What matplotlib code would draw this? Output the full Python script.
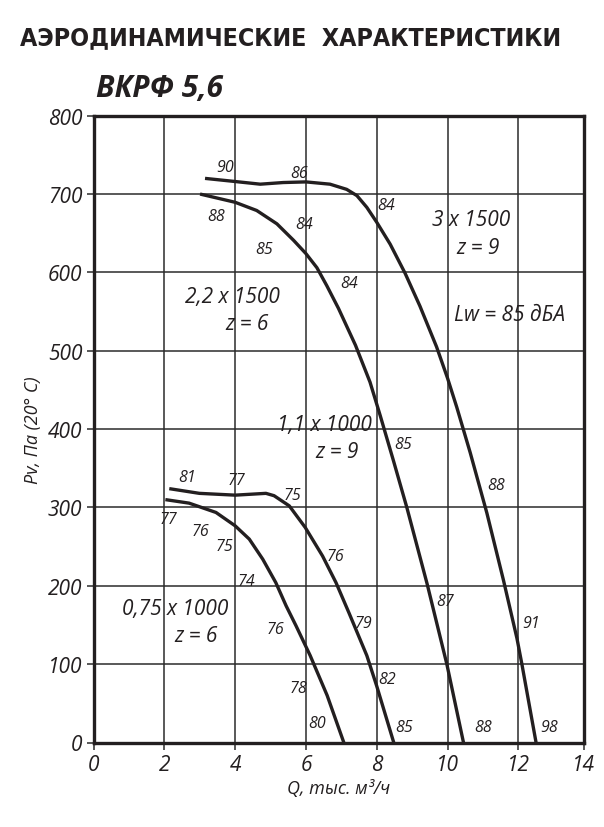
import matplotlib
matplotlib.use("Agg")
import matplotlib.pyplot as plt

# --- data ---
# 3 x 1500, z = 9
q_a = [3.15, 4.0, 4.71, 5.36, 6.0, 6.68, 7.15, 7.44, 7.72, 8.0, 8.38, 8.8, 9.22, 9.69, 10.0, 10.26, 10.64, 11.11, 11.58, 11.96, 12.1, 12.5]
p_a = [720, 716, 712.6, 714.7, 715.5, 712.6, 706, 698, 683, 664, 636, 599, 557, 505, 465, 428, 370, 293, 207, 133, 100, 0]
# 2,2 x 1500, z = 6
q_b = [3.01, 4.0, 4.61, 5.18, 5.65, 6.0, 6.31, 6.59, 6.92, 7.4, 7.81, 8.1, 8.47, 8.85, 9.42, 9.98, 10.45]
p_b = [700, 689.5, 679, 662, 641, 624, 606, 583, 554, 507, 460, 417, 360, 300, 203, 100, 0]
# 1,1 x 1000, z = 9
q_c = [2.14, 2.99, 4.0, 4.87, 5.1, 5.53, 5.98, 6.47, 6.85, 7.22, 7.72, 8.0, 8.48]
p_c = [324, 318, 315.7, 318, 315, 302, 274.5, 238, 204, 165, 111, 72, 0]
# 0,75 x 1000, z = 6
q_d = [2.03, 2.7, 3.46, 4.0, 4.4, 4.78, 5.15, 5.44, 5.72, 6.12, 6.6, 7.07]
p_d = [310, 305.5, 293.6, 276.6, 259.6, 234, 204, 174.5, 149, 111, 60, 0]

# noise level labels (value, q, p)
noise_labels = [
    ("90", 3.71, 734), ("86", 5.8, 727), ("84", 8.28, 686),
    ("88", 3.47, 672), ("84", 5.94, 662), ("85", 4.83, 630), ("84", 7.22, 586),
    ("85", 8.75, 381), ("88", 11.36, 329), ("87", 9.93, 181), ("91", 12.37, 152),
    ("85", 8.77, 20), ("88", 11.0, 20), ("98", 12.86, 20),
    ("81", 2.65, 339), ("77", 4.05, 335), ("75", 5.63, 316), ("76", 6.83, 238),
    ("79", 7.63, 153), ("82", 8.29, 81), ("77", 2.11, 285), ("76", 3.01, 270),
    ("75", 3.69, 251), ("74", 4.31, 206), ("76", 5.15, 145), ("78", 5.79, 70),
    ("80", 6.31, 25),
]
fan_labels = [
    ("3 x 1500", 10.68, 667), ("z = 9", 10.87, 632),
    ("2,2 x 1500", 3.92, 569), ("z = 6", 4.34, 535),
    ("1,1 x 1000", 6.51, 406), ("z = 9", 6.88, 372),
    ("0,75 x 1000", 2.3, 171), ("z = 6", 2.9, 136),
]
lw_text = "Lw = 85 дБА"
x_ticks = [0, 2, 4, 6, 8, 10, 12, 13.84]
x_tick_labels = ["0", "2", "4", "6", "8", "10", "12", "14"]
y_ticks = [0, 100, 200, 300, 400, 500, 600, 700, 800]

ink = "#231f20"
fam = ["Open Sans", "DejaVu Sans"]

fig = plt.figure(figsize=(6.04, 8.28), dpi=100)
ax = fig.add_axes([93.5 / 604, 1 - 743.5 / 828, 490 / 604, 626.8 / 828])

for q, p in [(q_a, p_a), (q_b, p_b), (q_c, p_c), (q_d, p_d)]:
    ax.plot(q, p, color=ink, lw=2.4, solid_capstyle="butt", solid_joinstyle="round", zorder=3)

for t, q, p in noise_labels:
    ax.text(q, p, t, fontsize=11.5, style="italic", family=fam, color=ink,
            ha="center", va="center", zorder=4)
for t, q, p in fan_labels:
    ax.text(q, p, t, fontsize=15, style="italic", family=fam, color=ink,
            ha="center", va="center", zorder=4)
ax.text(11.76, 546, lw_text, fontsize=15, style="italic", family=fam, color=ink,
        ha="center", va="center", zorder=4)

ax.set_xlim(0, 13.84)
ax.set_ylim(0, 800)
ax.set_xticks(x_ticks)
ax.set_xticklabels(x_tick_labels)
ax.set_yticks(y_ticks)
ax.grid(True, color="#2b2b2b", lw=1.1)
ax.set_axisbelow(True)
for s in ax.spines.values():
    s.set_linewidth(2.4)
    s.set_color(ink)
ax.tick_params(direction="out", length=5, width=1.1, color="#2b2b2b", pad=3, labelcolor=ink)
for lab in ax.get_xticklabels() + ax.get_yticklabels():
    lab.set_fontsize(15)
    lab.set_style("italic")
    lab.set_family(fam)

ax.set_xlabel("Q, тыс. м³/ч", fontsize=13, style="italic", family=fam, color=ink, labelpad=3)
ax.set_ylabel("Pv, Па (20° C)", fontsize=13, style="italic", family=fam, color=ink, labelpad=4)

title = fig.text(20 / 604, 1 - 38 / 828, "АЭРОДИНАМИЧЕСКИЕ  ХАРАКТЕРИСТИКИ", fontsize=20,
                 weight="heavy", family=["DejaVu Sans"], stretch="condensed", color=ink,
                 ha="left", va="center")
fig.text(96 / 604, 1 - 89 / 828, "ВКРФ 5,6", fontsize=21.5, weight="bold", style="italic",
         family=fam, color=ink, ha="left", va="center")

# fit the title to the width it has in the reference (x 20..562 px)
fig.canvas.draw()
w = title.get_window_extent().width
title.set_fontsize(20 * 542 / w)

fig.savefig("out.png", dpi=100)
